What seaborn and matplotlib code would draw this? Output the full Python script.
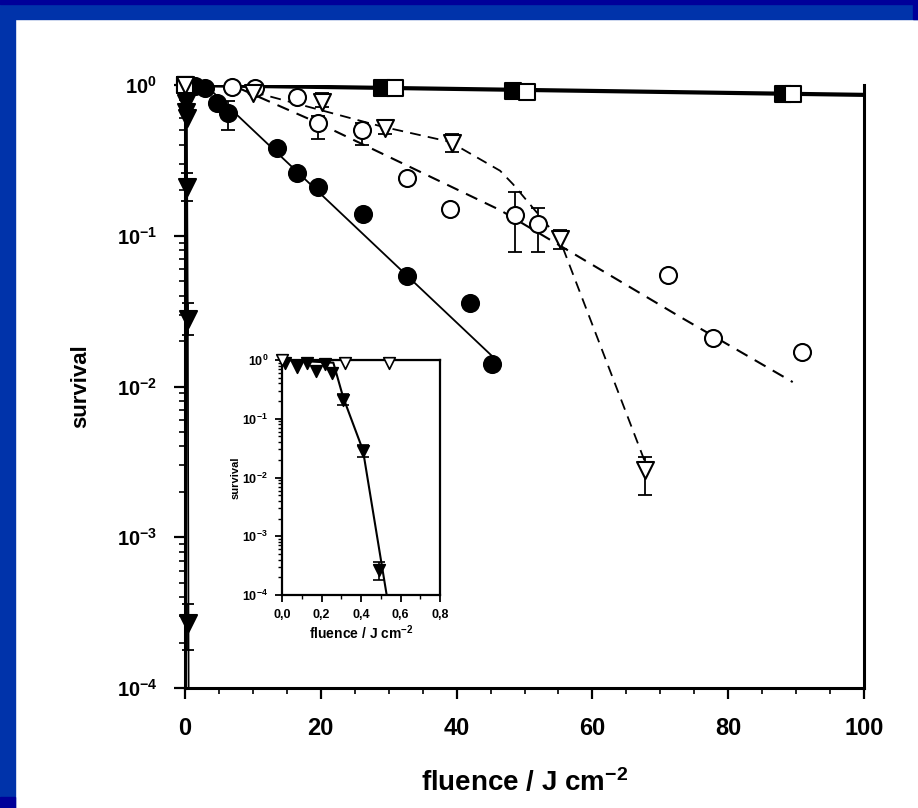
import matplotlib
matplotlib.use("Agg")
import matplotlib.pyplot as plt
import seaborn as sns
import pandas as pd
from matplotlib.patches import Rectangle
from matplotlib.ticker import FixedLocator, FixedFormatter, LogLocator, MultipleLocator, NullFormatter

# ---------------- data ----------------
# main panel: fluence (J cm^-2) vs survival
sq_filled_x = [0, 29, 48.3, 88]
sq_filled_y = [1.0, 0.96, 0.91, 0.87]
sq_open_x = [0, 31, 50.3, 89.5]
sq_open_y = [1.0, 0.955, 0.90, 0.87]
sq_fit_x = [0, 100]
sq_fit_y = [1.0, 0.86]

circ_filled_x = [1.5, 3, 4.7, 6.3, 13.5, 16.5, 19.6, 26.2, 32.7, 42, 45.2]
circ_filled_y = [0.98, 0.95, 0.76, 0.65, 0.38, 0.26, 0.21, 0.14, 0.054, 0.036, 0.014]
circ_filled_err_x = [6.3]
circ_filled_err_y = [0.65]
circ_filled_err_lo = [0.50]
circ_filled_err_hi = [0.78]
circ_filled_fit_x = [3, 45.5]
circ_filled_fit_y = [1.0, 0.0155]

circ_open_x = [6.9, 10.3, 16.5, 19.6, 26, 32.7, 39, 48.6, 52, 71.1, 77.8, 90.9]
circ_open_y = [0.97, 0.95, 0.83, 0.56, 0.50, 0.24, 0.15, 0.137, 0.12, 0.055, 0.021, 0.017]
circ_open_err_x = [19.6, 26, 48.6, 52]
circ_open_err_y = [0.56, 0.50, 0.137, 0.12]
circ_open_err_lo = [0.44, 0.40, 0.078, 0.078]
circ_open_err_hi = [0.62, 0.56, 0.195, 0.152]
circ_open_fit_x = [8, 19.6, 46.4, 72.9, 89.5]
circ_open_fit_y = [0.95, 0.56, 0.148, 0.029, 0.0107]

tri_open_x = [0, 10, 20.2, 29.5, 39.3, 55.2, 67.7]
tri_open_y = [1.0, 0.88, 0.77, 0.52, 0.41, 0.095, 0.0028]
tri_open_err_x = [20.2, 29.5, 39.3, 55.2, 67.7]
tri_open_err_y = [0.77, 0.52, 0.41, 0.095, 0.0028]
tri_open_err_lo = [0.72, 0.47, 0.36, 0.082, 0.0019]
tri_open_err_hi = [0.88, 0.58, 0.47, 0.11, 0.0034]
tri_open_fit_x = [10, 29, 39, 46.4, 48.3, 55.2, 67.7]
tri_open_fit_y = [0.90, 0.53, 0.42, 0.27, 0.22, 0.094, 0.0032]

# inset panel (fluence 0-0.8 J cm^-2)
tri_filled_x = [0.015, 0.077, 0.128, 0.17, 0.22, 0.255, 0.31, 0.41, 0.49]
tri_filled_y = [0.9, 0.76, 0.9, 0.66, 0.85, 0.6, 0.21, 0.028, 0.00027]
tri_filled_err_x = [0.31, 0.41, 0.49]
tri_filled_err_y = [0.21, 0.028, 0.00027]
tri_filled_err_lo = [0.17, 0.022, 0.00018]
tri_filled_err_hi = [0.26, 0.036, 0.00036]
tri_filled_fit_x = [0.0, 0.26, 0.31, 0.41, 0.53]
tri_filled_fit_y = [1.0, 0.9, 0.23, 0.029, 0.0001]
inset_tri_open_x = [0.0, 0.32, 0.54]
inset_tri_open_y = [1.0, 0.9, 0.9]
inset_tri_open_fit_x = [0.0, 0.8]
inset_tri_open_fit_y = [1.0, 1.0]

main_xticks = [0, 20, 40, 60, 80, 100]
main_xtick_labels = ["0", "20", "40", "60", "80", "100"]
log_ticks = [1e-4, 1e-3, 1e-2, 1e-1, 1e0]
main_ytick_labels = [r"$10^{-4}$", r"$10^{-3}$", r"$10^{-2}$", r"$10^{-1}$", r"$10^{0}$"]
inset_xticks = [0.0, 0.2, 0.4, 0.6, 0.8]
inset_xtick_labels = ["0,0", "0,2", "0,4", "0,6", "0,8"]
x_label = r"fluence / J cm$^{-2}$"
y_label = "survival"

# ---------------- style ----------------
sns.set_theme(style="ticks")
plt.rcParams["font.family"] = ["Liberation Sans", "DejaVu Sans"]
plt.rcParams["font.weight"] = "bold"
plt.rcParams["mathtext.fontset"] = "custom"
plt.rcParams["mathtext.rm"] = "Liberation Sans:bold"
plt.rcParams["mathtext.it"] = "Liberation Sans:bold"
plt.rcParams["mathtext.bf"] = "Liberation Sans:bold"
plt.rcParams["mathtext.default"] = "rm"
for key in ["text.color", "axes.labelcolor", "xtick.color", "ytick.color",
            "xtick.labelcolor", "ytick.labelcolor"]:
    plt.rcParams[key] = "black"

W, H = 918, 808
fig = plt.figure(figsize=(W / 100, H / 100), dpi=100)
fig.patch.set_facecolor("white")

# blue slide frame
navy = "#000099"
blue = "#0033AA"
fig.patches.append(Rectangle((0, 1 - 19 / H), 1, 19 / H, transform=fig.transFigure, color=blue, zorder=-10))
fig.patches.append(Rectangle((0, 1 - 4 / H), 1, 4 / H, transform=fig.transFigure, color=navy, zorder=-9))
fig.patches.append(Rectangle((913 / W, 1 - 19 / H), 5 / W, 19 / H, transform=fig.transFigure, color=navy, zorder=-9))
fig.patches.append(Rectangle((0, 0), 15 / W, 1, transform=fig.transFigure, color=blue, zorder=-10))
fig.patches.append(Rectangle((0, 0), 15 / W, 11 / H, transform=fig.transFigure, color=navy, zorder=-9))

ax = fig.add_axes([185 / W, 1 - 688 / H, (864 - 185) / W, (688 - 85) / H])
ax.set_facecolor("none")

K = "black"
ms_main = 150
lw_mk = 1.5

def err(axh, xs, ys, lo, hi, lw=1.3, cap=5):
    axh.errorbar(xs, ys, yerr=[[y - l for y, l in zip(ys, lo)], [h - y for y, h in zip(ys, hi)]],
                 fmt="none", ecolor=K, elinewidth=lw, capsize=cap, capthick=lw, clip_on=False, zorder=3)

# lines
sns.lineplot(x=sq_fit_x, y=sq_fit_y, ax=ax, color=K, lw=3.0, zorder=2)
sns.lineplot(x=circ_filled_fit_x, y=circ_filled_fit_y, ax=ax, color=K, lw=1.3, zorder=2)
sns.lineplot(x=circ_open_fit_x, y=circ_open_fit_y, ax=ax, color=K, lw=1.5, zorder=2)
ax.lines[-1].set_dashes([6, 4])
sns.lineplot(x=tri_open_fit_x, y=tri_open_fit_y, ax=ax, color=K, lw=1.3, zorder=2)
ax.lines[-1].set_dashes([6, 4])
sns.lineplot(x=tri_filled_fit_x, y=tri_filled_fit_y, ax=ax, color=K, lw=1.3, zorder=2)

# error bars
err(ax, circ_filled_err_x, circ_filled_err_y, circ_filled_err_lo, circ_filled_err_hi)
err(ax, circ_open_err_x, circ_open_err_y, circ_open_err_lo, circ_open_err_hi)
err(ax, tri_open_err_x, tri_open_err_y, tri_open_err_lo, tri_open_err_hi)
err(ax, tri_filled_err_x, tri_filled_err_y, tri_filled_err_lo, tri_filled_err_hi, cap=4)

# markers
sns.scatterplot(x=sq_filled_x, y=sq_filled_y, ax=ax, marker="s", s=130, color=K, edgecolor=K, linewidth=lw_mk, zorder=4, clip_on=False)
sns.scatterplot(x=sq_open_x, y=sq_open_y, ax=ax, marker="s", s=130, color="white", edgecolor=K, linewidth=lw_mk, zorder=5, clip_on=False)
sns.scatterplot(x=circ_filled_x, y=circ_filled_y, ax=ax, marker="o", s=ms_main, color=K, edgecolor=K, linewidth=lw_mk, zorder=4, clip_on=False)
sns.scatterplot(x=circ_open_x, y=circ_open_y, ax=ax, marker="o", s=ms_main, color="white", edgecolor=K, linewidth=lw_mk, zorder=5, clip_on=False)
sns.scatterplot(x=tri_open_x, y=tri_open_y, ax=ax, marker="v", s=ms_main, color="white", edgecolor=K, linewidth=lw_mk, zorder=5, clip_on=False)
sns.scatterplot(x=tri_filled_x, y=tri_filled_y, ax=ax, marker="v", s=ms_main, color=K, edgecolor=K, linewidth=lw_mk, zorder=4, clip_on=False)

ax.set_yscale("log")
ax.set_xlim(0, 100)
ax.set_ylim(1e-4, 1.0)
ax.xaxis.set_major_locator(FixedLocator(main_xticks))
ax.xaxis.set_major_formatter(FixedFormatter(main_xtick_labels))
ax.xaxis.set_minor_locator(MultipleLocator(5))
ax.yaxis.set_major_locator(FixedLocator(log_ticks))
ax.yaxis.set_major_formatter(FixedFormatter(main_ytick_labels))
ax.yaxis.set_minor_locator(LogLocator(base=10, subs=range(2, 10), numticks=20))
ax.yaxis.set_minor_formatter(NullFormatter())
for s in ["left", "bottom", "right"]:
    ax.spines[s].set_linewidth(2.2)
    ax.spines[s].set_color(K)
ax.spines["top"].set_visible(False)
ax.tick_params(which="major", direction="out", length=8, width=1.6, color=K, labelcolor=K)
ax.tick_params(which="minor", direction="out", length=4, width=1.2, color=K)
ax.tick_params(axis="x", which="major", labelsize=17, pad=13)
ax.tick_params(axis="y", which="major", labelsize=14.5, pad=12)
for t in ax.get_xticklabels() + ax.get_yticklabels():
    t.set_fontweight("bold")
ax.set_xlabel(x_label, fontsize=20, fontweight="bold", labelpad=20, color=K)
ax.set_ylabel(y_label, fontsize=16, fontweight="bold", labelpad=18, color=K)

# ---------------- inset ----------------
ia = fig.add_axes([282 / W, 1 - 595 / H, (440 - 282) / W, (595 - 360) / H])
ia.set_facecolor("white")
sns.lineplot(x=inset_tri_open_fit_x, y=inset_tri_open_fit_y, ax=ia, color=K, lw=1.5, zorder=2)
sns.lineplot(x=tri_filled_fit_x, y=tri_filled_fit_y, ax=ia, color=K, lw=1.5, zorder=2)
err(ia, tri_filled_err_x, tri_filled_err_y, tri_filled_err_lo, tri_filled_err_hi, lw=1.2, cap=4)
sns.scatterplot(x=tri_filled_x, y=tri_filled_y, ax=ia, marker="v", s=70, color=K, edgecolor=K, linewidth=1.2, zorder=4, clip_on=False)
sns.scatterplot(x=inset_tri_open_x, y=inset_tri_open_y, ax=ia, marker="v", s=70, color="white", edgecolor=K, linewidth=1.2, zorder=5, clip_on=False)
ia.set_yscale("log")
ia.set_xlim(0, 0.8)
ia.set_ylim(1e-4, 1.0)
ia.xaxis.set_major_locator(FixedLocator(inset_xticks))
ia.xaxis.set_major_formatter(FixedFormatter(inset_xtick_labels))
ia.xaxis.set_minor_locator(MultipleLocator(0.1))
ia.yaxis.set_major_locator(FixedLocator(log_ticks))
ia.yaxis.set_major_formatter(FixedFormatter(main_ytick_labels))
ia.yaxis.set_minor_locator(LogLocator(base=10, subs=range(2, 10), numticks=20))
ia.yaxis.set_minor_formatter(NullFormatter())
for s in ia.spines.values():
    s.set_linewidth(1.6)
    s.set_color(K)
ia.tick_params(which="major", direction="out", length=5, width=1.3, color=K, labelcolor=K, labelsize=9, pad=5)
ia.tick_params(which="minor", direction="out", length=3, width=1.0, color=K)
for t in ia.get_xticklabels() + ia.get_yticklabels():
    t.set_fontweight("bold")
ia.set_xlabel(x_label, fontsize=10, fontweight="bold", labelpad=2, color=K)
ia.set_ylabel(y_label, fontsize=8, fontweight="bold", labelpad=1, color=K)

fig.savefig("out.png", dpi=100)
